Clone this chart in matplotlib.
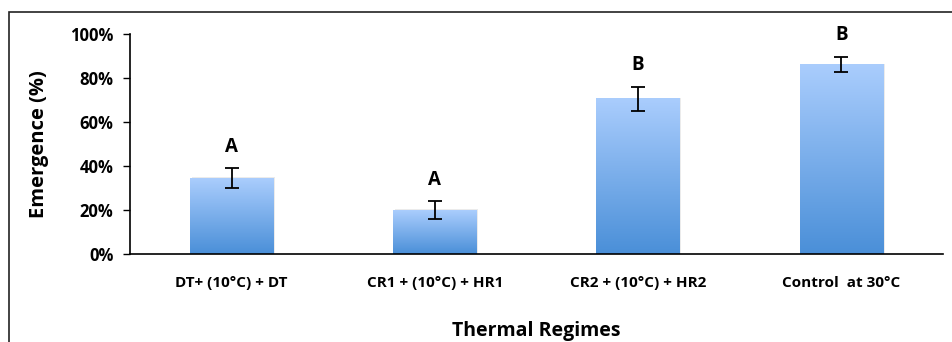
import matplotlib
matplotlib.use("Agg")
import matplotlib.pyplot as plt
import numpy as np
from matplotlib.colors import LinearSegmentedColormap
from matplotlib.patches import Rectangle

# data
regimes = ["DT+ (10°C) + DT", "CR1 + (10°C) + HR1", "CR2 + (10°C) + HR2", "Control  at 30°C"]
emergence = [0.345, 0.20, 0.705, 0.862]
err = [0.045, 0.04, 0.056, 0.035]
letters = ["A", "A", "B", "B"]
yticks = [0, 0.2, 0.4, 0.6, 0.8, 1.0]
ytick_labels = ["0%", "20%", "40%", "60%", "80%", "100%"]

plt.rcParams['font.family'] = ['Open Sans', 'DejaVu Sans']
plt.rcParams['font.weight'] = 'bold'

W, H = 952, 342
fig = plt.figure(figsize=(W / 100, H / 100), dpi=100)
# outer chart frame (left and top edges visible, rest cropped)
fig.patches.append(Rectangle((9 / W, -0.1), 1.2, 1.1 - 12 / H, transform=fig.transFigure,
                             fill=False, edgecolor="#222222", linewidth=1.2))

ax = fig.add_axes([130 / W, (H - 254) / H, (943 - 130) / W, 220 / H])
x = np.arange(len(regimes))
bars = ax.bar(x, emergence, width=0.41, color="none", zorder=2)

grad_cmap = LinearSegmentedColormap.from_list("grad", ["#4a8fd8", "#aacdfd"])
grad = np.linspace(0, 1, 256).reshape(-1, 1)
for b in bars:
    x0, w, h = b.get_x(), b.get_width(), b.get_height()
    # faint shadow on the right side
    ax.add_patch(Rectangle((x0 + 0.008, 0), w, h + 0.003, facecolor="#ebebeb", edgecolor="none", zorder=1))
    ax.imshow(grad, extent=[x0, x0 + w, 0, h], origin="lower", aspect="auto", cmap=grad_cmap, zorder=2)

ax.errorbar(x, emergence, yerr=err, fmt="none", ecolor="black", elinewidth=1.3, capsize=5, capthick=1.3, zorder=3)
for xi, v, e, lab in zip(x, emergence, err, letters):
    ax.text(xi, v + e + 0.052, lab, ha="center", va="bottom", fontsize=13.5, fontweight="bold")

ax.set_xlim(-0.5, len(regimes) - 0.5)
ax.set_ylim(0, 1)
ax.set_yticks(yticks)
ax.set_yticklabels(ytick_labels)
ax.set_xticks(x)
ax.set_xticklabels(regimes)
ax.tick_params(axis="y", length=5, width=1, labelsize=12, pad=7)
ax.tick_params(axis="x", length=0, labelsize=11, pad=16)
for lbl in ax.get_xticklabels() + ax.get_yticklabels():
    lbl.set_fontweight("bold")
ax.spines["top"].set_visible(False)
ax.spines["right"].set_visible(False)
ax.spines["left"].set_linewidth(1.2)
ax.spines["bottom"].set_linewidth(1.2)
ax.set_ylabel("Emergence (%)", fontsize=14.5, fontweight="bold", labelpad=15)
ax.set_xlabel("Thermal Regimes", fontsize=14, fontweight="bold", labelpad=22)

fig.savefig("out.png", dpi=100)
